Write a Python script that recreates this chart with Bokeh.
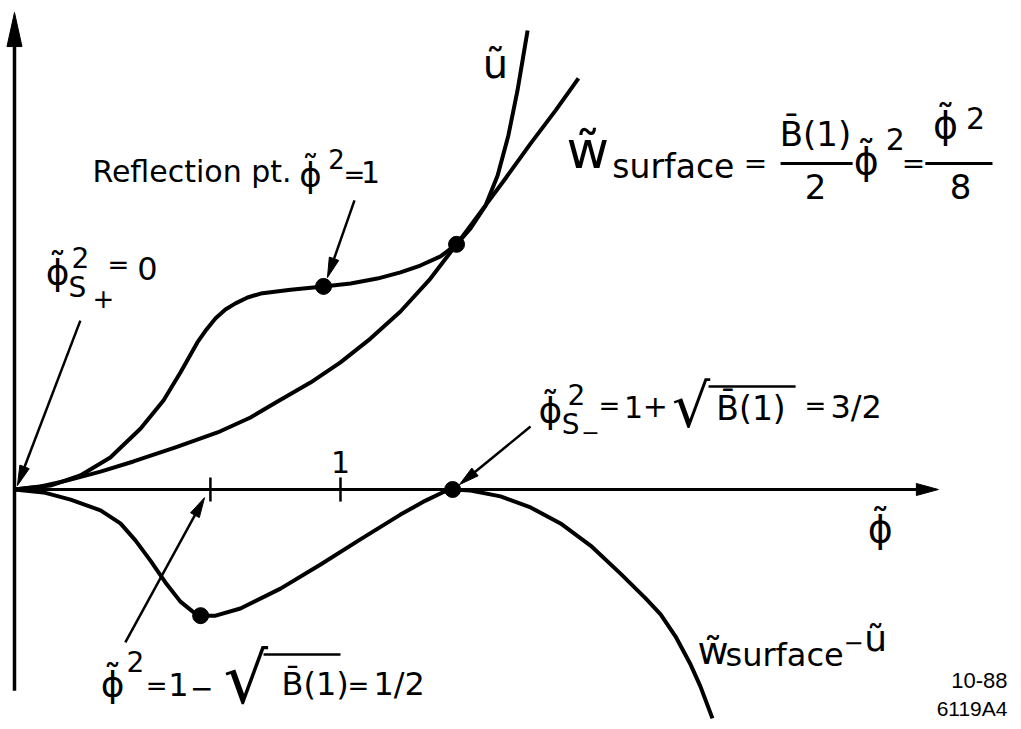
import numpy as np
from bokeh.plotting import figure
from bokeh.models import Range1d
from bokeh.core.properties import value
from bokeh.embed import file_html
from bokeh.resources import INLINE

# ---- curve data (phi-tilde on x, energy on y) ----
phi_u = [0, 0.110, 0.202, 0.294, 0.387, 0.457, 0.509, 0.561, 0.589, 0.617, 0.647, 0.678, 0.715,
         0.755, 0.847, 0.948, 1.031, 1.113, 1.184, 1.245, 1.307, 1.356, 1.399, 1.445, 1.482, 1.515,
         1.543, 1.561, 1.574]
u_vals = [0, 0.012, 0.043, 0.098, 0.187, 0.273, 0.359, 0.451, 0.491, 0.525, 0.552, 0.571, 0.589,
          0.601, 0.613, 0.623, 0.632, 0.647, 0.666, 0.687, 0.715, 0.752, 0.801, 0.871, 0.963, 1.086,
          1.224, 1.331, 1.408]

phi_w = [0, 0.080, 0.163, 0.264, 0.365, 0.494, 0.623, 0.724, 0.807, 0.908, 1.000, 1.092, 1.184,
         1.276, 1.356, 1.429, 1.506, 1.583, 1.660, 1.730]
w_vals = [0, 0.009, 0.028, 0.055, 0.086, 0.129, 0.175, 0.221, 0.270, 0.328, 0.390, 0.463, 0.546,
          0.647, 0.752, 0.850, 0.954, 1.061, 1.163, 1.261]

phi_d = [0, 0.089, 0.172, 0.264, 0.325, 0.371, 0.417, 0.463, 0.509, 0.546, 0.571, 0.617, 0.693,
         0.816, 0.939, 1.061, 1.184, 1.261, 1.313, 1.344, 1.399, 1.491, 1.583, 1.675, 1.767, 1.859,
         1.936, 1.982, 2.028, 2.074, 2.104, 2.141]
d_vals = [0, -0.009, -0.031, -0.064, -0.104, -0.156, -0.218, -0.285, -0.344, -0.374, -0.387, -0.387,
          -0.365, -0.304, -0.230, -0.153, -0.077, -0.034, -0.009, 0, -0.003, -0.021, -0.055, -0.104,
          -0.172, -0.258, -0.334, -0.383, -0.451, -0.537, -0.604, -0.702]

dot_phi = [0.948, 1.356, 1.344, 0.571]
dot_val = [0.623, 0.752, 0.0, -0.387]

tick_phi = [0.601, 1.0]
tick_labels = ["", "1"]

# ---- figure ----
W, H = 1013, 721
X0 = -0.0429
X1 = X0 + W / 326.0
Y1 = 1.5
Y0 = Y1 - H / 326.0
S = W / (X1 - X0)  # pixels per unit (same on both axes)

p = figure(width=W, height=H, x_range=Range1d(X0, X1), y_range=Range1d(Y0, Y1),
           output_backend="svg", toolbar_location=None, x_axis_type=None, y_axis_type=None,
           min_border=0, outline_line_color=None, background_fill_color="white",
           border_fill_color="white")

FONT = "DejaVu Sans"
BLACK = "black"


def arrow(x0, y0, x1, y1, lw=2.5, hl=20, hw=10):
    dx, dy = x1 - x0, y1 - y0
    n = np.hypot(dx, dy)
    ux, uy = dx / n, dy / n
    L, Wd = hl / S, hw / S
    bx, by = x1 - ux * L, y1 - uy * L
    nx, ny = -uy, ux
    p.line([x0, bx + ux * 2 / S], [y0, by + uy * 2 / S], line_width=lw, line_color=BLACK)
    p.patch([x1, bx + nx * Wd / 2, bx - nx * Wd / 2], [y1, by + ny * Wd / 2, by - ny * Wd / 2],
            fill_color=BLACK, line_color=BLACK, line_width=1)


def txt(x, y, s, size, align="left", font=FONT):
    p.text([x], [y], text=[s], text_font=value(font), text_font_size=f"{size}px",
           text_align=align, text_baseline="middle", text_color=BLACK)


# axes with arrowheads
arrow(0, -0.617, 0, 1.463, lw=3.5, hl=34, hw=15)
arrow(0, 0, 2.834, 0, lw=3, hl=22, hw=12)

# ticks
for t, lab in zip(tick_phi, tick_labels):
    p.line([t, t], [-0.037, 0.037], line_width=2.5, line_color=BLACK)
    if lab:
        txt(t, 0.083, lab, 30, align="center")

# curves
p.line(phi_u, u_vals, line_width=4, line_color=BLACK, line_join="round")
p.line(phi_w, w_vals, line_width=4, line_color=BLACK, line_join="round")
p.line(phi_d, d_vals, line_width=4, line_color=BLACK, line_join="round")
p.scatter(dot_phi, dot_val, size=16, fill_color=BLACK, line_color=BLACK)

# annotation arrows
arrow(1.043, 0.887, 0.960, 0.650)
arrow(0.202, 0.518, 0.009, 0.012)
arrow(1.583, 0.193, 1.365, 0.015)
arrow(0.340, -0.469, 0.583, -0.025)

PHI = "\u03d5\u0303"
WT = "w\u0303"
UT = "\u0169"
BB = "B\u0304(1)"
SQ = "\u221a"
MINUS = "\u2212"

# u label
txt(1.475, 1.304, UT, 40, align="center")

# top formula
txt(1.693, 1.040, WT, 52)
txt(1.834, 0.991, "surface", 33)
txt(2.273, 1.000, "=", 28, align="center")
txt(2.457, 1.092, BB, 34, align="center")
p.line([2.350, 2.571], [1.0, 1.0], line_width=3, line_color=BLACK)
txt(2.457, 0.929, "2", 34, align="center")
txt(2.613, 1.009, PHI, 38, align="center")
txt(2.702, 1.074, "2", 30, align="center")
txt(2.758, 1.000, "=", 28, align="center")
txt(2.856, 1.117, PHI, 38, align="center")
txt(2.948, 1.141, "2", 30, align="center")
p.line([2.794, 3.000], [1.0, 1.0], line_width=3, line_color=BLACK)
txt(2.902, 0.929, "8", 34, align="center")

# reflection point label
txt(0.239, 0.975, "Reflection pt.", 30)
txt(0.908, 0.966, PHI, 34, align="center")
txt(0.988, 1.015, "2", 26, align="center")
txt(1.043, 0.966, "=", 26, align="center")
txt(1.092, 0.975, "1", 30, align="center")

# S+ label
txt(0.132, 0.666, PHI, 36, align="center")
txt(0.202, 0.712, "2", 28, align="center")
txt(0.193, 0.620, "S", 28, align="center")
txt(0.273, 0.586, "+", 26, align="center")
txt(0.319, 0.690, "=", 26, align="center")
txt(0.408, 0.678, "0", 32, align="center")

# S- label
txt(1.644, 0.242, PHI, 36, align="center")
txt(1.724, 0.291, "2", 28, align="center")
txt(1.706, 0.199, "S", 28, align="center")
txt(1.767, 0.175, MINUS, 22, align="center")
txt(1.825, 0.255, "=", 26, align="center")
txt(1.899, 0.252, "1", 30, align="center")
txt(1.966, 0.255, "+", 30, align="center")
txt(2.017, 0.255, SQ, 60)
p.line([2.129, 2.396], [0.316, 0.316], line_width=2.5, line_color=BLACK)
txt(2.153, 0.248, BB, 33)
txt(2.457, 0.255, "=", 26, align="center")
txt(2.503, 0.252, "3/2", 32)

# bottom label
txt(0.301, -0.598, PHI, 36, align="center")
txt(0.371, -0.528, "2", 28, align="center")
txt(0.436, -0.604, "=", 26, align="center")
txt(0.503, -0.598, "1", 32, align="center")
txt(0.574, -0.607, MINUS, 28, align="center")
txt(0.641, -0.580, SQ, 70)
p.line([0.764, 1.000], [-0.506, -0.506], line_width=2.5, line_color=BLACK)
txt(0.819, -0.598, BB, 32)
txt(1.055, -0.604, "=", 26, align="center")
txt(1.101, -0.598, "1/2", 32)

# axis label
txt(2.656, -0.120, PHI, 38, align="center")

# bottom-right label
txt(2.095, -0.494, WT, 38)
txt(2.181, -0.509, "surface", 32)
txt(2.574, -0.469, MINUS, 24, align="center")
txt(2.607, -0.457, UT, 36)

# figure numbers
txt(3.046, -0.586, "10-88", 22, align="right", font="Liberation Sans")
txt(3.046, -0.672, "6119A4", 21, align="right", font="Liberation Sans")

open("out.html", "w").write(file_html(p, INLINE))
